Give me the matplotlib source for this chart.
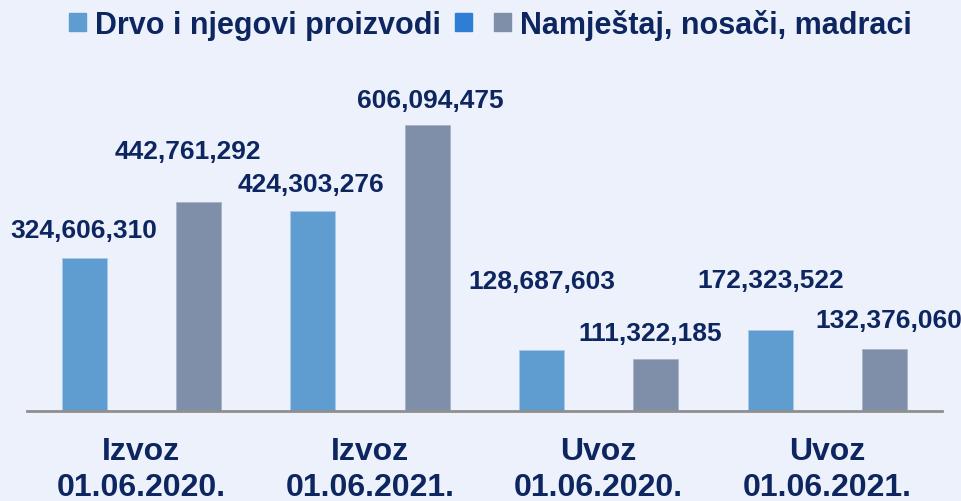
import numpy as np
import matplotlib
matplotlib.use("Agg")
from matplotlib import pyplot as plt
from matplotlib.patches import Rectangle

categories = ["Izvoz\n01.06.2020.", "Izvoz\n01.06.2021.", "Uvoz\n01.06.2020.", "Uvoz\n01.06.2021."]
drvo = [324606310, 424303276, 128687603, 172323522]
namjestaj = [442761292, 606094475, 111322185, 132376060]
series_names = ["Drvo i njegovi proizvodi", "", "Namještaj, nosači, madraci"]

c_drvo = '#5F9DD1'
c_extra = '#2E7ED6'
c_nam = '#7F8FA9'
navy = '#0E2660'

wide = ['Liberation Sans', 'DejaVu Sans']

fig = plt.figure(figsize=(9.62, 5.02), dpi=100)
fig.patch.set_facecolor('#ECF1FC')
ax = fig.add_axes([0.028, 0.179, 0.951, 0.658])
ax.set_facecolor('none')

x = np.arange(len(categories))
b1 = ax.bar(x - 0.25, drvo, width=0.197, color=c_drvo, edgecolor='#A9C8EA', linewidth=0.6)
b2 = ax.bar(x + 0.25, namjestaj, width=0.197, color=c_nam, edgecolor='#A7B3C8', linewidth=0.6)

ax.set_xlim(-0.5, 3.5)
ax.set_ylim(0, 700e6)

# label offsets (pixels) tuned by hand
off1 = [(0, 28), (-2, 27), (0, 69), (0, 50)]
off2 = [(-11, 51), (3, 25), (-6, 26), (4, 29)]
for bars, vals, offs in ((b1, drvo, off1), (b2, namjestaj, off2)):
    for b, v, o in zip(bars, vals, offs):
        ax.annotate(f"{v:,}", (b.get_x() + b.get_width() / 2, v),
                    xytext=o, textcoords='offset pixels', ha='center', va='center',
                    fontsize=19, fontweight='bold', color=navy, family=wide)

for s in ['top', 'left', 'right']:
    ax.spines[s].set_visible(False)
ax.spines['bottom'].set_color('#8F8F8F')
ax.spines['bottom'].set_linewidth(2)
ax.set_yticks([])
ax.set_xticks(x)
ax.set_xticklabels(categories, fontsize=23, fontweight='bold', color=navy,
                   family=wide, linespacing=1.25)
ax.tick_params(axis='x', length=0, pad=18)

handles = [Rectangle((0, 0), 1, 1, color=c) for c in (c_drvo, c_extra, c_nam)]
fig.legend(handles, series_names, loc='upper center', bbox_to_anchor=(0.51, 1.035),
           ncol=3, frameon=False, handlelength=0.55, handleheight=0.55,
           handletextpad=0.3, columnspacing=0.45,
           prop={'family': wide, 'weight': 'bold', 'size': 22}, labelcolor=navy)

fig.savefig('out.png', dpi=100, facecolor=fig.get_facecolor())
